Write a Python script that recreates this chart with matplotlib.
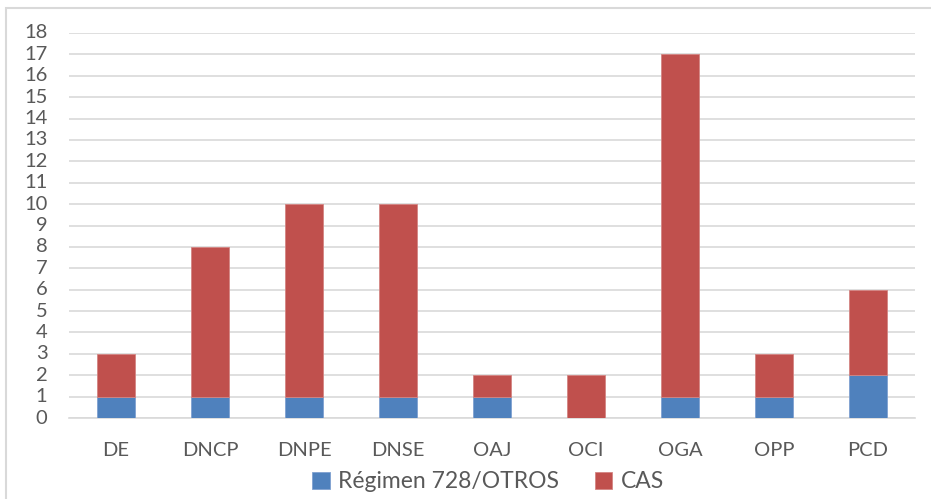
import matplotlib.pyplot as plt
from matplotlib.patches import Rectangle
import numpy as np

categories = ["DE", "DNCP", "DNPE", "DNSE", "OAJ", "OCI", "OGA", "OPP", "PCD"]
regimen = [1, 1, 1, 1, 1, 0, 1, 1, 2]
cas = [2, 7, 9, 9, 1, 2, 16, 2, 4]
series_names = ["Régimen 728/OTROS", "CAS"]

blue = "#4F81BD"
red = "#C0504D"
text_col = "#595959"
grid_col = "#D9D9D9"

plt.rcParams["font.family"] = ["Lato", "DejaVu Sans"]

W, H = 931, 499
fig = plt.figure(figsize=(W / 100, H / 100), dpi=100)
ax = fig.add_axes([69 / W, 1 - 418 / H, (915 - 69) / W, (418 - 33) / H])

x = np.arange(len(categories))
ax.bar(x, regimen, width=0.4, color=blue, edgecolor="#7FA1D0", linewidth=0.6,
       label=series_names[0], zorder=3)
ax.bar(x, cas, width=0.4, bottom=regimen, color=red, edgecolor="#D48583",
       linewidth=0.6, label=series_names[1], zorder=3)

ax.set_xlim(-0.5, len(categories) - 0.5)
ax.set_ylim(0, 18)
ax.set_yticks(range(0, 19))
ax.set_xticks(x)
ax.set_xticklabels(categories)
ax.yaxis.grid(True, color=grid_col, linewidth=1.2, zorder=0)
ax.tick_params(axis="both", length=0, labelsize=14.5, colors=text_col)
ax.tick_params(axis="x", pad=17)
ax.tick_params(axis="y", pad=15.5)
for lbl in ax.get_yticklabels():
    lbl.set_verticalalignment("center")
for s in ["top", "right", "left"]:
    ax.spines[s].set_visible(False)
ax.spines["bottom"].set_color(grid_col)
ax.spines["bottom"].set_linewidth(1.2)

leg = fig.legend(loc="center", bbox_to_anchor=(488 / W, 1 - 482 / H), ncol=2,
                 frameon=False, fontsize=16.5, handlelength=0.75, handleheight=0.75,
                 handletextpad=0.35, columnspacing=1.6, labelcolor=text_col)

fig.patches.append(Rectangle((6 / W, -0.1), 1.2, (H - 8) / H + 0.1,
                             transform=fig.transFigure, fill=False,
                             edgecolor=grid_col, linewidth=1.5))

fig.savefig("out.png", dpi=100)
